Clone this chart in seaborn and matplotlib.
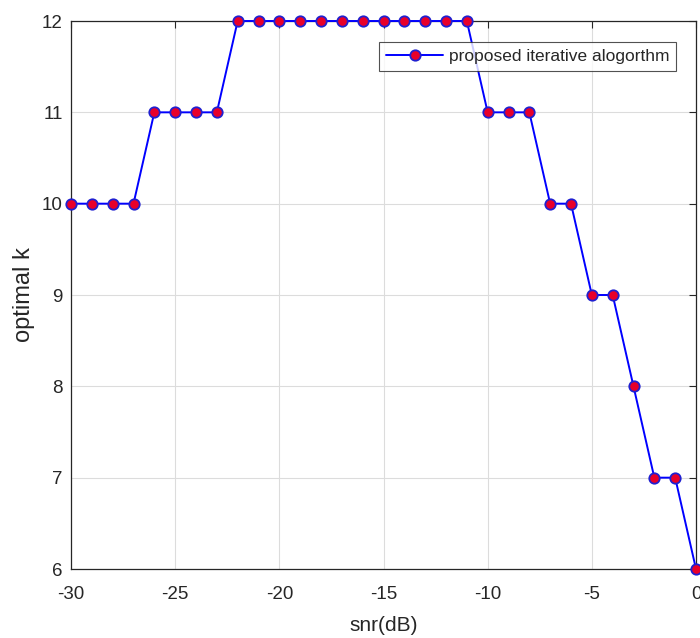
import matplotlib
matplotlib.use("Agg")
import matplotlib.pyplot as plt
import seaborn as sns
import pandas as pd

snr_db = [-30, -29, -28, -27, -26, -25, -24, -23, -22, -21, -20, -19, -18, -17, -16,
          -15, -14, -13, -12, -11, -10, -9, -8, -7, -6, -5, -4, -3, -2, -1, 0]
optimal_k = [10, 10, 10, 10, 11, 11, 11, 11, 12, 12, 12, 12, 12, 12, 12,
             12, 12, 12, 12, 12, 11, 11, 11, 10, 10, 9, 9, 8, 7, 7, 6]
x_ticks = [-30, -25, -20, -15, -10, -5, 0]
y_ticks = [6, 7, 8, 9, 10, 11, 12]
series_label = "proposed iterative alogorthm"

sns.set_style("white")
plt.rcParams["font.family"] = ["Liberation Sans", "DejaVu Sans"]

df = pd.DataFrame({"snr": snr_db, "k": optimal_k})

fig = plt.figure(figsize=(7.0, 6.38), dpi=100)
ax = fig.add_axes([71 / 700, 1 - 569 / 638, 625 / 700, 548 / 638])

sns.lineplot(data=df, x="snr", y="k", ax=ax, color="#0000ff", linewidth=1.4,
             marker="o", markersize=7.5, markerfacecolor="#e8002a",
             markeredgecolor="#2020d0", markeredgewidth=1.3,
             label=series_label, clip_on=False, zorder=5)

ax.set_xlim(-30, 0)
ax.set_ylim(6, 12)
ax.set_xticks(x_ticks)
ax.set_yticks(y_ticks)
ax.set_xticklabels([str(v) for v in x_ticks])
ax.set_yticklabels([str(v) for v in y_ticks])
ax.grid(True, color="#dcdcdc", linewidth=0.8)
ax.set_axisbelow(True)
for s in ax.spines.values():
    s.set_color("#262626")
    s.set_linewidth(0.9)
ax.tick_params(direction="in", length=5, width=0.8, color="#262626",
               top=True, right=True, labelsize=13.5, labelcolor="#262626")
ax.tick_params(axis="x", pad=12)
ax.tick_params(axis="y", pad=6)
ax.set_xlabel("snr(dB)", fontsize=15, color="#262626", labelpad=9.5)
ax.set_ylabel("optimal k", fontsize=17, color="#262626", labelpad=5)

leg = ax.legend(loc="upper right", bbox_to_anchor=(676 / 700, 1 - 42 / 638),
                bbox_transform=fig.transFigure, fontsize=12.5, frameon=True,
                fancybox=False, edgecolor="#262626", borderpad=0.4,
                handlelength=3.3, handletextpad=0.3, borderaxespad=0)
leg.get_frame().set_linewidth(0.8)

fig.savefig("out.png", dpi=100, facecolor="white")
